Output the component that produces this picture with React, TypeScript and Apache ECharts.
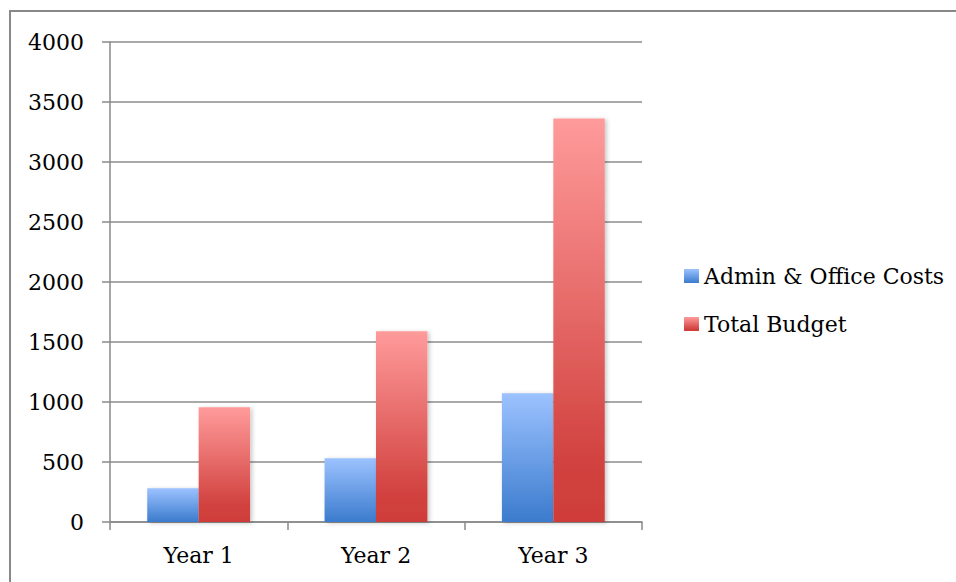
import React, { useEffect, useRef } from "react";
import * as echarts from "echarts";

const categories = ["Year 1", "Year 2", "Year 3"];
const adminOfficeCosts = [281, 531, 1072];
const totalBudget = [956, 1590, 3362];
const yTicks = { min: 0, max: 4000, interval: 500 };

const FONT = "'DejaVu Serif', serif";

const blueFill = new echarts.graphic.LinearGradient(0, 0, 0, 1, [
  { offset: 0, color: "#9cc2ff" },
  { offset: 1, color: "#3b7bcd" },
]);
const redFill = new echarts.graphic.LinearGradient(0, 0, 0, 1, [
  { offset: 0, color: "#ff9b9b" },
  { offset: 0.85, color: "#d1423f" },
  { offset: 1, color: "#cf3d3a" },
]);

const barShadow = {
  shadowBlur: 4,
  shadowColor: "rgba(0,0,0,0.22)",
  shadowOffsetX: 2,
  shadowOffsetY: 1,
};

export default function App() {
  const ref = useRef<HTMLDivElement>(null);

  useEffect(() => {
    document.body.style.margin = "0";
    const chart = echarts.init(ref.current!, null, { renderer: "svg" });
    chart.setOption({
      animation: false,
      backgroundColor: "#ffffff",
      textStyle: { fontFamily: FONT },
      grid: { left: 110, top: 42, right: 314, bottom: 60, containLabel: false },
      legend: {
        orient: "vertical",
        left: 684,
        top: 264,
        padding: 0,
        itemWidth: 15,
        itemHeight: 14,
        itemGap: 24,
        icon: "rect",
        textStyle: { fontFamily: FONT, fontSize: 22, color: "#000", lineHeight: 24 },
        data: ["Admin & Office Costs", "Total Budget"],
      },
      xAxis: {
        type: "category",
        data: categories,
        axisLine: { lineStyle: { color: "#888888", width: 1.5 } },
        axisTick: { show: true, length: 8, lineStyle: { color: "#888888", width: 1.5 } },
        axisLabel: { fontFamily: FONT, fontSize: 22, color: "#000", margin: 22 },
      },
      yAxis: {
        type: "value",
        min: yTicks.min,
        max: yTicks.max,
        interval: yTicks.interval,
        axisLine: { show: true, lineStyle: { color: "#888888", width: 1.5 } },
        axisTick: { show: true, length: 8, lineStyle: { color: "#888888", width: 1.5 } },
        axisLabel: {
          fontFamily: FONT,
          fontSize: 22,
          color: "#000",
          margin: 26,
          formatter: (v: number) => String(v),
        },
        splitLine: { lineStyle: { color: "#8c8c8c", width: 1.5 } },
      },
      series: [
        {
          name: "Admin & Office Costs",
          type: "bar",
          data: adminOfficeCosts,
          barGap: "0%",
          barCategoryGap: "42%",
          itemStyle: { color: blueFill, ...barShadow },
        },
        {
          name: "Total Budget",
          type: "bar",
          data: totalBudget,
          barGap: "0%",
          barCategoryGap: "42%",
          itemStyle: { color: redFill, ...barShadow },
        },
      ],
      graphic: [
        {
          type: "polyline",
          shape: { points: [[10, 582], [10, 11], [956, 11]] },
          style: { stroke: "#888888", lineWidth: 2, fill: null },
          silent: true,
        },
      ],
    });
    return () => chart.dispose();
  }, []);

  return <div ref={ref} style={{ width: 956, height: 582 }} />;
}
